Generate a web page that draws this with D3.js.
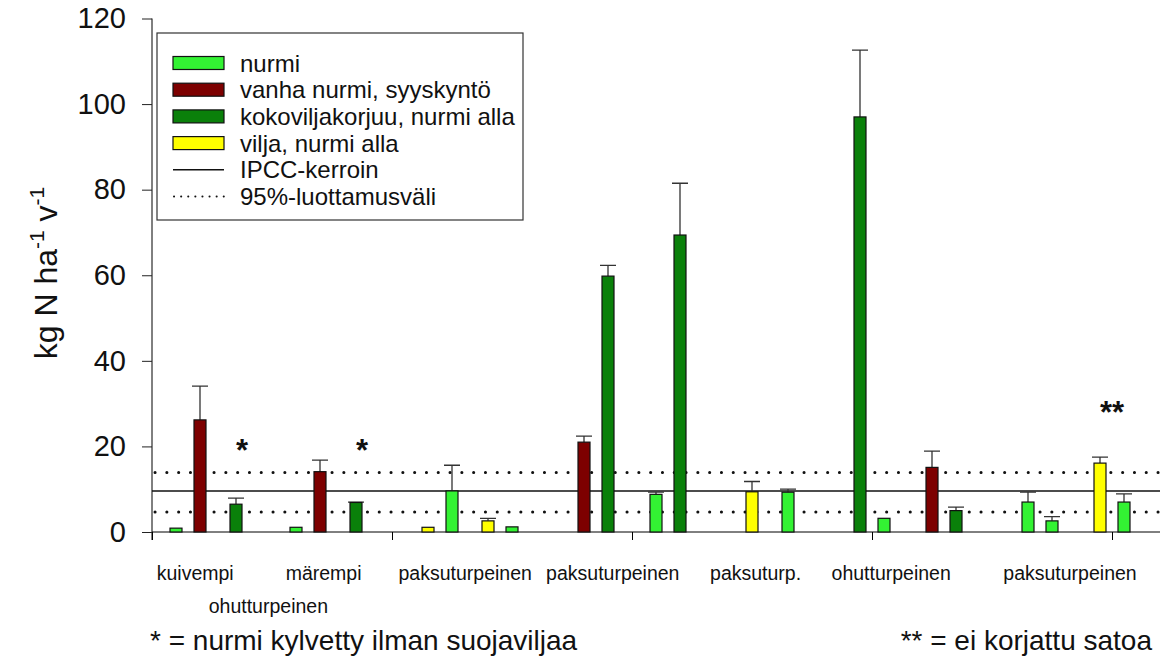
<!DOCTYPE html>
<html>
<head>
<meta charset="utf-8">
<script src="https://cdn.jsdelivr.net/npm/d3@7"></script>
<style>
  body { margin: 0; background: #fff; }
  svg { display: block; font-family: Arial, "Liberation Sans", sans-serif; }
</style>
</head>
<body>
<div id="chart"></div>
<script>
// series (legend order)
const seriesNames = ["nurmi", "vanha nurmi, syyskyntö", "kokoviljakorjuu, nurmi alla", "vilja, nurmi alla"];
const seriesColors = ["#33f233", "#7d0000", "#0a800a", "#ffff00"];

// bars: position on x axis, series index, mean, upper error
const barX =     [2, 4, 7,   12, 14, 17,   23, 25, 28, 30,   36, 38, 42, 44,   50, 53,   59, 61, 65, 67,   73, 75, 79, 81];
const barSeries = [0, 1, 2,   0, 1, 2,     3, 0, 3, 0,       1, 2, 0, 2,       3, 0,     2, 0, 1, 2,       0, 0, 3, 0];
const barValue = [0.9, 26.2, 6.5,   1.1, 14.1, 6.9,   1.1, 9.6, 2.6, 1.2,   21.0, 59.8, 8.8, 69.4,   9.4, 9.3,   97.0, 3.2, 15.1, 5.0,   7.0, 2.6, 16.1, 7.0];
const barError = [0, 7.9, 1.4,   0, 2.7, 0.1,   0, 6.0, 0.6, 0,   1.4, 2.5, 0.5, 12.1,   2.4, 0.7,   15.6, 0, 3.8, 0.8,   2.3, 1.0, 1.4, 1.9];

// category labels under the axis
const catLabels = ["kuivempi", "märempi", "ohutturpeinen", "paksuturpeinen", "paksuturpeinen", "paksuturp.", "ohutturpeinen", "paksuturpeinen"];
const catX =      [3.6, 14.3, 9.7, 26.1, 38.4, 50.3, 61.6, 76.5];
const catRow =    [0, 0, 1, 0, 0, 0, 0, 0];

// IPCC factor and its 95 % interval
const ipcc = 9.6;
const ipccCI = [4.7, 13.9];

const yTicks = [0, 20, 40, 60, 80, 100, 120];
const xTicks = [0, 20, 40, 60, 80];

// significance marks
const markText = ["*", "*", "**"];
const markX = [7.5, 17.5, 80];
const markY = [20.5, 20.5, 29.5];

const width = 1162, height = 664;
const svg = d3.select("#chart").append("svg")
    .attr("width", width)
    .attr("height", height);

const x = d3.scaleLinear().domain([0, 84]).range([152, 1160]);
const y = d3.scaleLinear().domain([0, 120]).range([532, 18.5]);
const bw = x(1) - x(0);

// axes
svg.append("g")
    .attr("transform", "translate(152,0)")
    .call(d3.axisLeft(y).tickValues(yTicks).tickSize(10).tickPadding(16))
    .call(g => g.select(".domain").attr("d", `M0,${y(120)}V540`))
    .call(g => g.selectAll("line").attr("stroke", "#222"))
    .call(g => g.selectAll("text").attr("font-size", 29).attr("fill", "#111").attr("font-family", null));

svg.append("g")
    .attr("transform", "translate(0,532)")
    .call(d3.axisBottom(x).tickValues(xTicks).tickSize(8).tickFormat(""))
    .call(g => g.select(".domain").attr("d", `M${x(0)},0H${x(84)}`));

// reference lines
svg.append("line")
    .attr("x1", x(0)).attr("x2", x(84))
    .attr("y1", y(ipcc)).attr("y2", y(ipcc))
    .attr("stroke", "#111").attr("stroke-width", 1.5);

svg.selectAll(".ci").data(ipccCI).enter().append("line")
    .attr("class", "ci")
    .attr("x1", x(0) + 3).attr("x2", x(84))
    .attr("y1", d => y(d)).attr("y2", d => y(d))
    .attr("stroke", "#111").attr("stroke-width", 3)
    .attr("stroke-linecap", "round")
    .attr("stroke-dasharray", "0.1 11.7");

// bars
const bars = barX.map((d, i) => ({x: d, s: barSeries[i], v: barValue[i], e: barError[i]}));

svg.selectAll(".err").data(bars.filter(d => d.e > 0)).enter().append("path")
    .attr("class", "err")
    .attr("fill", "none")
    .attr("stroke", "#333")
    .attr("stroke-width", 1.3)
    .attr("d", d => `M${x(d.x)},${y(d.v)}V${y(d.v + d.e)}M${x(d.x) - 8},${y(d.v + d.e)}H${x(d.x) + 8}`);

svg.selectAll(".bar").data(bars).enter().append("rect")
    .attr("class", "bar")
    .attr("x", d => x(d.x) - bw / 2)
    .attr("width", bw)
    .attr("y", d => y(d.v))
    .attr("height", d => y(0) - y(d.v))
    .attr("fill", d => seriesColors[d.s])
    .attr("stroke", "#111")
    .attr("stroke-width", 1.2);

// significance marks
svg.selectAll(".mark").data(markText).enter().append("text")
    .attr("x", (d, i) => x(markX[i]))
    .attr("y", (d, i) => y(markY[i]) + 17)
    .attr("text-anchor", "middle")
    .attr("font-size", 31)
    .attr("font-weight", "bold")
    .attr("fill", "#111")
    .text(d => d);

// category labels
svg.selectAll(".cat").data(catLabels).enter().append("text")
    .attr("x", (d, i) => x(catX[i]))
    .attr("y", (d, i) => catRow[i] ? 613 : 580)
    .attr("text-anchor", "middle")
    .attr("font-size", 19.5)
    .attr("fill", "#111")
    .text(d => d);

// y axis title
const yt = svg.append("text")
    .attr("transform", "translate(57,273) rotate(-90)")
    .attr("text-anchor", "middle")
    .attr("font-size", 32)
    .attr("fill", "#111");
yt.append("tspan").text("kg N ha");
yt.append("tspan").attr("font-size", 21).attr("dy", -13).text("-1");
yt.append("tspan").attr("dy", 13).text(" v");
yt.append("tspan").attr("font-size", 21).attr("dy", -13).text("-1");

// footnotes
svg.append("text").attr("x", 150).attr("y", 650).attr("font-size", 28).attr("fill", "#111")
    .text("* = nurmi kylvetty ilman suojaviljaa");
svg.append("text").attr("x", 1152).attr("y", 650).attr("font-size", 28).attr("fill", "#111")
    .attr("text-anchor", "end")
    .text("** = ei korjattu satoa");

// legend
const lg = svg.append("g").attr("transform", "translate(157,33)");
lg.append("rect").attr("width", 366).attr("height", 187)
    .attr("fill", "#fff").attr("stroke", "#333").attr("stroke-width", 1.2);

const rowY = i => 30 + i * 26.7;
lg.selectAll(".sw").data(seriesNames).enter().append("rect")
    .attr("x", 16).attr("y", (d, i) => rowY(i) - 6.5)
    .attr("width", 51).attr("height", 13)
    .attr("fill", (d, i) => seriesColors[i])
    .attr("stroke", "#111").attr("stroke-width", 1.2);

const legendText = seriesNames.concat(["IPCC-kerroin", "95%-luottamusväli"]);
lg.selectAll(".lt").data(legendText).enter().append("text")
    .attr("x", 83).attr("y", (d, i) => rowY(i) + 8.5)
    .attr("font-size", 24).attr("fill", "#111")
    .text(d => d);

lg.append("line").attr("x1", 16).attr("x2", 67).attr("y1", rowY(4)).attr("y2", rowY(4))
    .attr("stroke", "#111").attr("stroke-width", 1.5);
lg.append("line").attr("x1", 17).attr("x2", 67).attr("y1", rowY(5)).attr("y2", rowY(5))
    .attr("stroke", "#111").attr("stroke-width", 2)
    .attr("stroke-linecap", "round")
    .attr("stroke-dasharray", "0.1 7");
</script>
</body>
</html>
